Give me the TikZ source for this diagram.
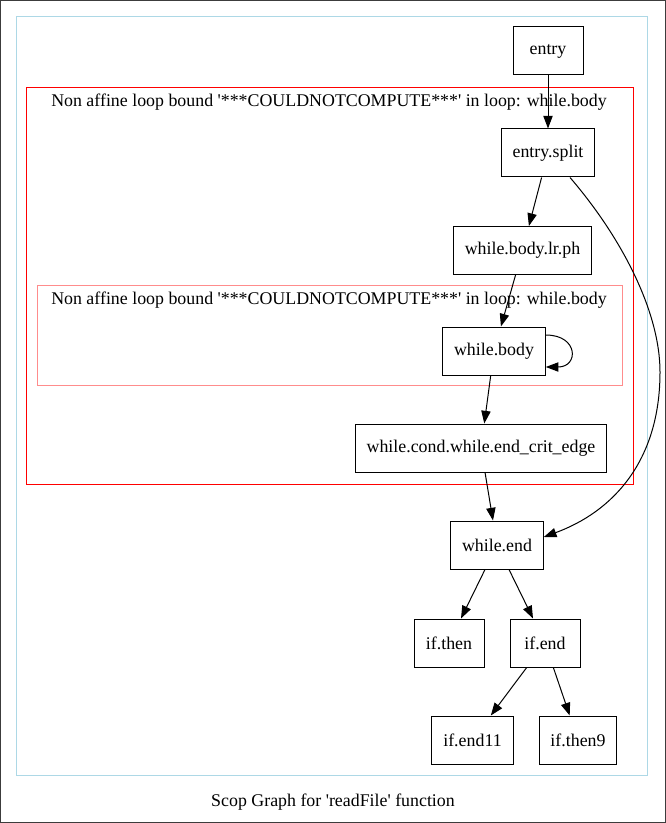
\documentclass[tikz,border=0pt]{standalone}
\usepackage{fontspec}
\setmainfont{Liberation Serif}[Ligatures=TeXOff]
\usetikzlibrary{arrows.meta}

\tikzset{every picture/.style={line width=0.75pt}}
\tikzset{
  block/.style={draw, rectangle, minimum width=52.5pt, minimum height=36pt, inner xsep=8.5pt, font=\fontsize{13.4}{16}\selectfont},
  edge/.style={-{Triangle[length=9.5pt,width=7pt]}},
  lbl/.style={inner sep=0pt, font=\fontsize{13.4}{16}\selectfont}
}

\begin{document}
\begin{tikzpicture}[x=0.75pt,y=0.75pt,yscale=-1,xscale=1]
	\useasboundingbox (0,0) rectangle (666,823);
	
	%Frame
	\draw [color={rgb, 255:red, 60; green, 60; blue, 60 }] (0.5,0.5) rectangle (665.5,822.5);
	%Cluster: function
	\draw [color={rgb, 255:red, 173; green, 216; blue, 230 }] (16.5,16.5) rectangle (647.5,775.5);
	%Cluster: outer loop
	\draw [color={rgb, 255:red, 255; green, 0; blue, 0 }] (26.5,87.5) rectangle (633.5,484.5);
	%Cluster: inner loop
	\draw [color={rgb, 255:red, 255; green, 140; blue, 140 }] (37.5,285.5) rectangle (622.5,385.5);
	
	% Cluster labels
	\node [lbl] (outerlbl) at (329,102) {Non affine loop bound '***COULDNOTCOMPUTE***' in loop: while.body};
	\node [lbl] (innerlbl) at (329,300) {Non affine loop bound '***COULDNOTCOMPUTE***' in loop: while.body};
	
	% Blocks
	\node [block] (entry) at (548,51) {entry};
	\node [block] (entrysplit) at (548,153) {entry.split};
	\node [block] (lrph) at (522.5,250.5) {while.body.lr.ph};
	\node [block] (body) at (494,351) {while.body};
	\node [block] (critedge) at (481,448) {while.cond.while.end\_crit\_edge};
	\node [block] (wend) at (497,545) {while.end};
	\node [block] (ifthen) at (449,643) {if.then};
	\node [block] (ifend) at (545,643) {if.end};
	\node [block] (ifendxi) at (472.5,740) {if.end11};
	\node [block] (ifthenix) at (578,740) {if.then9};
	
	% Edges
	\draw [edge] (entry) -- (entrysplit);
	\draw [edge] (entrysplit) -- (lrph);
	\coordinate (bend) at (660,372);
	\draw [edge] ([xshift=16.5pt]entrysplit.south) .. controls (622,238) and (660,312) .. (bend) .. controls (660,462) and (612,512) .. ([yshift=-6pt]wend.east);
	\draw [edge] (lrph) -- (body);
	\draw [edge] ([yshift=-12pt]body.east) .. controls +(33,0) and +(33,0) .. ([yshift=12pt]body.east);
	\draw [edge] (body) -- (critedge);
	\draw [edge] (critedge) -- (wend);
	\draw [edge] (wend) -- (ifthen);
	\draw [edge] (wend) -- (ifend);
	\draw [edge] (ifend) -- (ifendxi);
	\draw [edge] (ifend) -- (ifthenix);
	
	% Caption
	\node [lbl] (caption) at (333,802) {Scop Graph for 'readFile' function};
	
\end{tikzpicture}
\end{document}
